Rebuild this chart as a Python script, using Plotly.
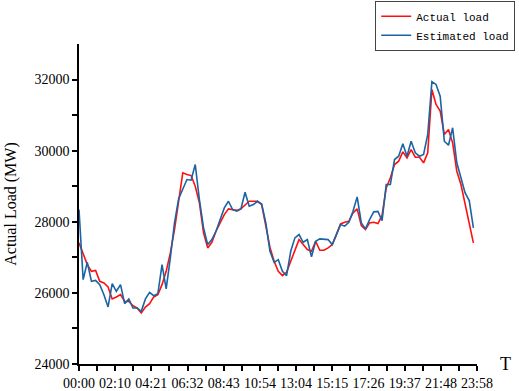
import plotly.graph_objects as go

minutes = [15 * i for i in range(96)]

actual_load = [
    27406, 27077, 26795, 26607, 26630, 26325, 26278, 26167, 25830, 25886,
    25950, 25762, 25760, 25640, 25576, 25435, 25600, 25697, 25886, 25950,
    26232, 26607, 27125, 27780, 28550, 29377, 29329, 29300, 29000, 28530,
    27688, 27265, 27423, 27733, 27969, 28203, 28363, 28340, 28320, 28363,
    28484, 28577, 28577, 28577, 28480, 27900, 27280, 26889, 26607, 26486,
    26580, 26889, 27170, 27499, 27358, 27218, 27170, 27452, 27200, 27200,
    27265, 27358, 27640, 27940, 27986, 28015, 28250, 28363, 27893, 27780,
    27969, 27986, 27950, 28180, 28950, 29236, 29610, 29704, 29967, 29798,
    30032, 29816, 29816, 29658, 29939, 31722, 31300, 31112, 30455, 30595,
    30220, 29422, 29047, 28530, 28015, 27406,
]

estimated_load = [
    28344, 26373, 26860, 26325, 26350, 26232, 25950, 25604, 26260, 26045,
    26232, 25697, 25830, 25576, 25576, 25482, 25830, 26015, 25920, 25980,
    26795, 26111, 26984, 27970, 28650, 28907, 29188, 29170, 29610, 28625,
    27828, 27358, 27499, 27733, 28062, 28391, 28577, 28340, 28297, 28363,
    28831, 28436, 28484, 28577, 28500, 27970, 27170, 26860, 26936, 26607,
    26486, 27170, 27547, 27640, 27423, 27499, 27012, 27452, 27520, 27520,
    27499, 27358, 27640, 27920, 27876, 27986, 28297, 28701, 27969, 27800,
    28062, 28279, 28290, 28030, 29047, 29047, 29751, 29844, 30193, 29844,
    30266, 29939, 29844, 29892, 30455, 31938, 31863, 31534, 30266, 30154,
    30643, 29658, 29236, 28814, 28597, 27828,
]

x_tick_vals = [0, 130, 261, 392, 523, 654, 784, 915, 1046, 1177, 1308, 1438]
x_tick_text = ["00:00", "02:10", "04:21", "06:32", "08:43", "10:54",
               "13:04", "15:15", "17:26", "19:37", "21:48", "23:58"]
x_minor_vals = [65, 195.5, 326.5, 457.5, 588.5, 719, 849.5, 980.5, 1111.5, 1242.5, 1373]
y_tick_vals = [24000, 26000, 28000, 30000, 32000]
y_tick_text = ["24000", "26000", "28000", "30000", "32000"]
y_minor_vals = [25000, 27000, 29000, 31000]

fig = go.Figure()
fig.add_trace(go.Scatter(x=minutes, y=actual_load, mode="lines", name="Actual load",
                         line=dict(color="#ff1010", width=1.6)))
fig.add_trace(go.Scatter(x=minutes, y=estimated_load, mode="lines", name="Estimated load",
                         line=dict(color="#1b64a4", width=1.6)))

serif = "Liberation Serif, Times New Roman, serif"

fig.update_layout(
    width=519, height=391,
    margin=dict(l=79, r=42, t=44, b=27, autoexpand=False),
    paper_bgcolor="white", plot_bgcolor="white",
    showlegend=True,
    legend=dict(x=1.096, y=1.135, xanchor="right", yanchor="top",
                bordercolor="#444", borderwidth=1, bgcolor="white",
                font=dict(family="Liberation Mono, DejaVu Sans Mono, monospace", size=11, color="black"),
                tracegroupgap=0, itemwidth=30),
    xaxis=dict(range=[0, 1438], tickmode="array", tickvals=x_tick_vals, ticktext=x_tick_text,
               showline=True, linecolor="black", linewidth=1.5, mirror=False, automargin=False,
               ticks="outside", ticklen=5, tickwidth=1.5, tickcolor="black",
               showgrid=False, zeroline=False,
               tickfont=dict(family=serif, size=14, color="black"),
               minor=dict(tickmode="array", tickvals=x_minor_vals, ticks="outside",
                          ticklen=5, tickwidth=1.5, tickcolor="black", showgrid=False)),
    yaxis=dict(range=[24000, 33000], tickmode="array", tickvals=y_tick_vals, ticktext=y_tick_text,
               showline=True, linecolor="black", linewidth=1.5, mirror=False, automargin=False,
               ticks="outside", ticklen=5, tickwidth=1.5, tickcolor="black",
               showgrid=False, zeroline=False,
               tickfont=dict(family=serif, size=14, color="black"),
               title=dict(text="Actual Load (MW)", font=dict(family=serif, size=16, color="black"),
                          standoff=14),
               minor=dict(tickmode="array", tickvals=y_minor_vals, ticks="outside",
                          ticklen=5, tickwidth=1.5, tickcolor="black", showgrid=False)),
    annotations=[dict(text="T", x=1.071, y=0.0, xref="paper", yref="paper",
                      xanchor="center", yanchor="middle", showarrow=False,
                      font=dict(family=serif, size=18, color="black"))],
)

fig.write_html("out.html", config={"displayModeBar": False},
               post_script="document.body.style.margin='0';document.body.style.padding='0';")
